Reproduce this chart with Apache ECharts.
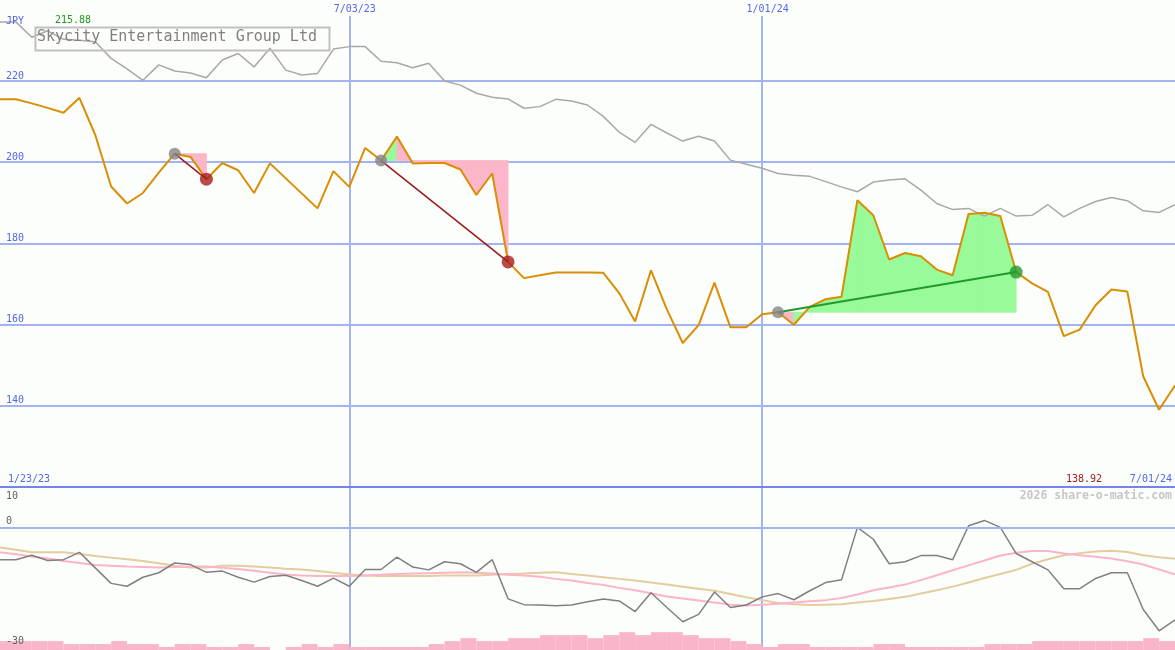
<!DOCTYPE html>
<html><head><meta charset="utf-8">
<script src="https://cdn.jsdelivr.net/npm/echarts@6/dist/echarts.min.js"></script>
<style>html,body{margin:0;padding:0;background:#fcfefc}#c{width:1175px;height:650px}</style>
</head><body><div id="c"></div>
<script>
const dates = ['1/23/23','2/06/23','2/13/23','2/20/23','2/27/23','3/06/23','3/13/23','3/20/23','3/27/23','4/03/23',
 '4/10/23','4/17/23','4/24/23','5/01/23','5/08/23','5/15/23','5/22/23','5/29/23','6/05/23','6/12/23',
 '6/19/23','6/26/23','7/03/23','7/10/23','7/17/23','7/24/23','7/31/23','8/07/23','8/14/23','8/21/23',
 '8/28/23','9/04/23','9/11/23','9/18/23','9/25/23','10/02/23','10/09/23','10/16/23','10/23/23','10/30/23',
 '11/06/23','11/13/23','11/20/23','11/27/23','12/04/23','12/11/23','12/18/23','12/25/23','1/01/24','1/08/24',
 '1/15/24','1/22/24','1/29/24','2/05/24','2/12/24','2/19/24','2/26/24','3/04/24','3/11/24','3/18/24',
 '3/25/24','4/01/24','4/08/24','4/15/24','4/22/24','4/29/24','5/06/24','5/13/24','5/20/24','5/27/24',
 '6/03/24','6/10/24','6/17/24','6/24/24','7/01/24'];
const price = [215.5,215.5,214.5,213.4,212.2,215.88,206.7,194.0,189.8,192.4,
 197.4,202.1,201.3,195.8,199.8,198.0,192.4,199.7,196.0,192.3,
 188.6,197.8,193.9,203.5,200.4,206.3,199.7,199.8,199.8,198.2,
 191.9,197.2,175.4,171.4,172.1,172.8,172.8,172.8,172.7,167.7,
 160.7,173.3,163.7,155.4,159.8,170.3,159.3,159.3,162.5,163.0,
 159.9,164.3,166.2,166.8,190.6,186.9,176.0,177.6,176.8,173.5,
 172.1,187.2,187.5,186.7,172.9,170.1,168.0,157.1,158.7,164.7,
 168.6,168.1,147.2,138.92,144.9];
const compare = [234.6,234.6,230.8,232.4,230.3,230.1,229.7,225.6,223.0,220.2,
 224.0,222.5,222.0,220.8,225.2,226.8,223.5,228.1,222.7,221.5,
 221.9,227.9,228.5,228.5,224.9,224.5,223.3,224.4,220.0,219.0,
 217.0,216.0,215.6,213.3,213.7,215.5,215.1,214.1,211.3,207.4,
 204.9,209.3,207.2,205.2,206.4,205.2,200.5,199.5,198.5,197.2,
 196.8,196.5,195.2,193.9,192.7,195.1,195.6,195.9,193.1,189.8,
 188.3,188.6,186.7,188.6,186.7,186.9,189.5,186.5,188.6,190.3,
 191.3,190.5,188.0,187.6,189.5];
const momentum = [-7.9,-7.9,-6.8,-8.1,-7.9,-6.1,-9.9,-13.7,-14.4,-12.2,
 -11.1,-8.7,-9.1,-11.0,-10.7,-12.2,-13.4,-12.0,-11.7,-13.0,
 -14.4,-12.4,-14.4,-10.3,-10.3,-7.3,-9.7,-10.4,-8.4,-8.9,
 -11.0,-7.9,-17.5,-18.9,-19.0,-19.2,-19.0,-18.2,-17.5,-18.0,
 -20.6,-16.0,-19.6,-23.1,-21.3,-15.8,-19.6,-19.0,-17.0,-16.2,
 -17.7,-15.5,-13.5,-12.8,0.0,-2.9,-8.9,-8.4,-6.9,-6.9,
 -7.9,0.4,1.7,0.0,-6.4,-8.4,-10.4,-15.0,-15.0,-12.5,
 -11.1,-11.1,-20.1,-25.3,-22.6];
const maFast = [-6.1,-6.6,-7.1,-7.6,-8.2,-8.7,-9.2,-9.4,-9.6,-9.7,
 -9.8,-9.7,-9.6,-9.6,-9.9,-10.2,-10.6,-11.1,-11.5,-11.8,
 -11.9,-11.9,-11.9,-11.8,-11.6,-11.4,-11.3,-11.2,-11.1,-11.0,
 -11.1,-11.3,-11.6,-11.8,-12.1,-12.6,-13.0,-13.6,-14.1,-14.8,
 -15.4,-16.1,-16.9,-17.4,-17.9,-18.4,-18.9,-19.1,-18.9,-18.7,
 -18.4,-18.1,-17.8,-17.3,-16.4,-15.4,-14.7,-14.0,-12.9,-11.7,
 -10.5,-9.3,-8.1,-6.9,-6.2,-5.8,-5.8,-6.4,-6.8,-7.2,
 -7.6,-8.3,-9.1,-10.3,-11.5];
const maSlow = [-4.9,-5.5,-6.1,-6.1,-6.1,-6.5,-7.0,-7.4,-7.8,-8.2,
 -8.8,-9.4,-9.8,-9.8,-9.4,-9.4,-9.6,-9.8,-10.1,-10.3,
 -10.7,-11.1,-11.5,-11.8,-11.9,-11.9,-11.9,-11.9,-11.8,-11.8,
 -11.8,-11.6,-11.4,-11.3,-11.1,-11.0,-11.4,-11.8,-12.2,-12.6,
 -13.0,-13.5,-14.0,-14.5,-15.0,-15.5,-16.3,-17.1,-17.8,-18.5,
 -18.8,-19.0,-18.9,-18.8,-18.4,-18.0,-17.5,-17.0,-16.2,-15.4,
 -14.5,-13.5,-12.4,-11.4,-10.4,-8.9,-7.8,-6.8,-6.3,-5.9,
 -5.7,-6.0,-6.8,-7.3,-7.7];
const volume = [3,3,3,3,2,2,2,3,2,2,
 1,2,2,1,1,2,1,0,1,2,
 1,2,1,1,1,1,1,2,3,4,
 3,3,4,4,5,5,5,4,5,6,
 5,6,6,5,4,4,3,2,1,2,
 2,1,1,1,1,2,2,1,1,1,
 1,1,2,2,2,3,3,3,3,3,
 3,3,4,3];
const tradeStart = [11, 24, 49];
const tradeEnd = [13, 32, 64];
const midTickIdx = [22, 48];
const edgeTickIdx = [0, 74];
const priceTicks = [140, 160, 180, 200, 220];
const momentumTicks = [10, 0, -30];
const currency = 'JPY';
const titleText = 'Skycity Entertainment Group Ltd';
const creditText = '2026 share-o-matic.com';

const MONO = '"DejaVu Sans Mono", "Liberation Mono", monospace';
const BLUE = '#5566ee';
const GRID = '#a3b2f0';
const BG = '#fcfefc';
const GAIN_FILL = '#98fa98';
const LOSS_FILL = '#fcb6c9';

const fillData = [];
tradeStart.forEach((s, t) => {
  for (let i = s; i < tradeEnd[t]; i++) fillData.push([i, price[s], price[i], price[i + 1]]);
});

const tradeLines = tradeStart.map((s, t) => {
  const e = tradeEnd[t];
  const gain = price[e] >= price[s];
  return {type: 'line', xAxisIndex: 0, yAxisIndex: 0, data: [[s, price[s]], [e, price[e]]],
    symbol: 'none', silent: true, z: 6,
    lineStyle: {color: gain ? '#229a2a' : '#9a1818', width: gain ? 2 : 1.5}};
});

const chart = echarts.init(document.getElementById('c'));
chart.setOption({
  animation: false,
  backgroundColor: BG,
  grid: [
    {left: 0, right: 0, top: 0, height: 486.5},
    {left: 0, right: 0, top: 486.5, height: 164}
  ],
  xAxis: [
    {gridIndex: 0, type: 'category', data: dates, boundaryGap: false, position: 'bottom',
     axisLine: {show: true, lineStyle: {color: '#7484ea', width: 2}}, axisTick: {show: false},
     axisLabel: {inside: true, margin: 2, verticalAlign: 'bottom', color: BLUE, fontSize: 10, fontFamily: MONO,
       interval: (i) => edgeTickIdx.includes(i),
       formatter: (v, i) => i === edgeTickIdx[0] ? '{l|' + v + '}' : '{r|' + v + '}',
       rich: {l: {padding: [0, 0, 0, 58], color: BLUE, fontSize: 10, fontFamily: MONO},
              r: {padding: [0, 48, 0, 0], color: BLUE, fontSize: 10, fontFamily: MONO}}},
     splitLine: {show: true, interval: (i) => midTickIdx.includes(i), lineStyle: {color: GRID, width: 2}}},
    {gridIndex: 0, type: 'category', data: dates, boundaryGap: false, position: 'top',
     axisLine: {show: false}, axisTick: {show: false},
     axisLabel: {inside: true, margin: 0, verticalAlign: 'top', color: BLUE, fontSize: 10, fontFamily: MONO,
       backgroundColor: BG, padding: [4, 0, 2, 11],
       interval: (i) => midTickIdx.includes(i)},
     splitLine: {show: false}},
    {gridIndex: 1, type: 'category', data: dates, boundaryGap: false,
     axisLine: {show: false}, axisTick: {show: false}, axisLabel: {show: false},
     splitLine: {show: true, interval: (i) => midTickIdx.includes(i), lineStyle: {color: GRID, width: 2}}},
    {gridIndex: 1, type: 'category', data: dates.slice(0, 74), boundaryGap: true, show: false}
  ],
  yAxis: [
    {gridIndex: 0, type: 'value', min: 120, max: 240, interval: 20,
     axisLine: {show: false}, axisTick: {show: false},
     axisLabel: {inside: true, margin: 6, verticalAlign: 'bottom', color: BLUE, fontSize: 10, fontFamily: MONO,
       formatter: (v) => priceTicks.includes(v) ? String(v) : ''},
     splitLine: {show: true, showMinLine: false, showMaxLine: false, lineStyle: {color: GRID, width: 2}}},
    {gridIndex: 1, type: 'value', min: -30, max: 10, interval: 10, z: 10,
     axisLine: {show: false}, axisTick: {show: false}, splitLine: {show: false},
     axisLabel: {inside: true, margin: 6, verticalAlign: 'middle', showMinLabel: true, showMaxLabel: true,
       color: '#606060', fontSize: 10, fontFamily: MONO,
       formatter: (v) => !momentumTicks.includes(v) ? '' : (v === 10 ? '{d|' + v + '}' : v === 0 ? '{u|' + v + '}' : '{w|' + v + '}'),
       rich: {d: {padding: [20, 0, 0, 0], color: '#606060', fontSize: 10, fontFamily: MONO},
              u: {padding: [0, 0, 11, 0], color: '#606060', fontSize: 10, fontFamily: MONO},
              w: {padding: [0, 0, 18, 0], color: '#606060', fontSize: 10, fontFamily: MONO}}}},
    {gridIndex: 1, type: 'value', min: 0, max: 55, show: false}
  ],
  series: [
    {type: 'bar', xAxisIndex: 3, yAxisIndex: 2, data: volume, barCategoryGap: '0%', barGap: '0%',
     itemStyle: {color: '#f9b6c9'}, silent: true, z: 1},
    {type: 'line', xAxisIndex: 2, yAxisIndex: 1, data: maSlow, symbol: 'none', silent: true, z: 2,
     lineStyle: {color: '#e3cc9e', width: 2},
     markLine: {silent: true, symbol: 'none', label: {show: false}, lineStyle: {color: GRID, width: 2, type: 'solid'},
       data: [{yAxis: 0}]}},
    {type: 'line', xAxisIndex: 2, yAxisIndex: 1, data: maFast, symbol: 'none', silent: true, z: 3,
     lineStyle: {color: '#fcb4c7', width: 2}},
    {type: 'line', xAxisIndex: 2, yAxisIndex: 1, data: momentum, symbol: 'none', silent: true, z: 4,
     lineStyle: {color: '#808080', width: 1.5}},
    {type: 'custom', xAxisIndex: 0, yAxisIndex: 0, data: fillData, silent: true, z: 2,
     encode: {x: 0, y: [1, 2, 3]},
     renderItem: (params, api) => {
       const i = api.value(0), s = api.value(1), a = api.value(2), b = api.value(3);
       const c = b >= s ? GAIN_FILL : LOSS_FILL;
       return {type: 'polygon',
         shape: {points: [api.coord([i, s]), api.coord([i, a]), api.coord([i + 1, b]), api.coord([i + 1, s])]},
         style: {fill: c, stroke: c, lineWidth: 0.8}};
     }},
    {type: 'line', xAxisIndex: 0, yAxisIndex: 0, data: compare, symbol: 'none', silent: true, z: 3,
     lineStyle: {color: '#a8a8a8', width: 1.5}},
    {type: 'line', xAxisIndex: 0, yAxisIndex: 0, data: price, symbol: 'none', silent: true, z: 4,
     lineStyle: {color: '#d98e04', width: 2}},
    ...tradeLines,
    {type: 'scatter', xAxisIndex: 0, yAxisIndex: 0, symbolSize: 12, silent: true, z: 7,
     itemStyle: {color: '#858585'},
     data: tradeStart.map((s) => [s, price[s]])},
    {type: 'scatter', xAxisIndex: 0, yAxisIndex: 0, symbolSize: 13, silent: true, z: 7,
     data: tradeEnd.map((e, t) => ({value: [e, price[e]],
       itemStyle: {color: price[e] >= price[tradeStart[t]] ? '#239a2b' : '#a51e1e'}}))}
  ],
  graphic: [
    {type: 'rect', left: 33, top: 25, shape: {width: 294, height: 23}, z: 10,
     style: {fill: 'none', stroke: '#c0c0c0', lineWidth: 2}},
    {type: 'text', x: 37, y: 37, z: 10,
     style: {text: titleText, fill: '#808080', font: '15px ' + MONO, verticalAlign: 'middle'}},
    {type: 'text', x: 6, y: 21, z: 10,
     style: {text: currency, fill: BLUE, font: '10px ' + MONO, verticalAlign: 'middle'}},
    {type: 'text', x: 55, y: 20, z: 10,
     style: {text: Math.max(...price).toFixed(2), fill: '#1f9a1f', font: '10px ' + MONO, verticalAlign: 'middle'}},
    {type: 'text', x: 1066, y: 479, z: 10,
     style: {text: Math.min(...price).toFixed(2), fill: '#a01c1c', font: '10px ' + MONO, verticalAlign: 'middle'}},
    {type: 'text', x: 1172, y: 496, z: 10,
     style: {text: creditText, fill: '#c6c6c6', font: 'bold 11.5px ' + MONO, align: 'right', verticalAlign: 'middle'}}
  ]
});
</script>
</body></html>
